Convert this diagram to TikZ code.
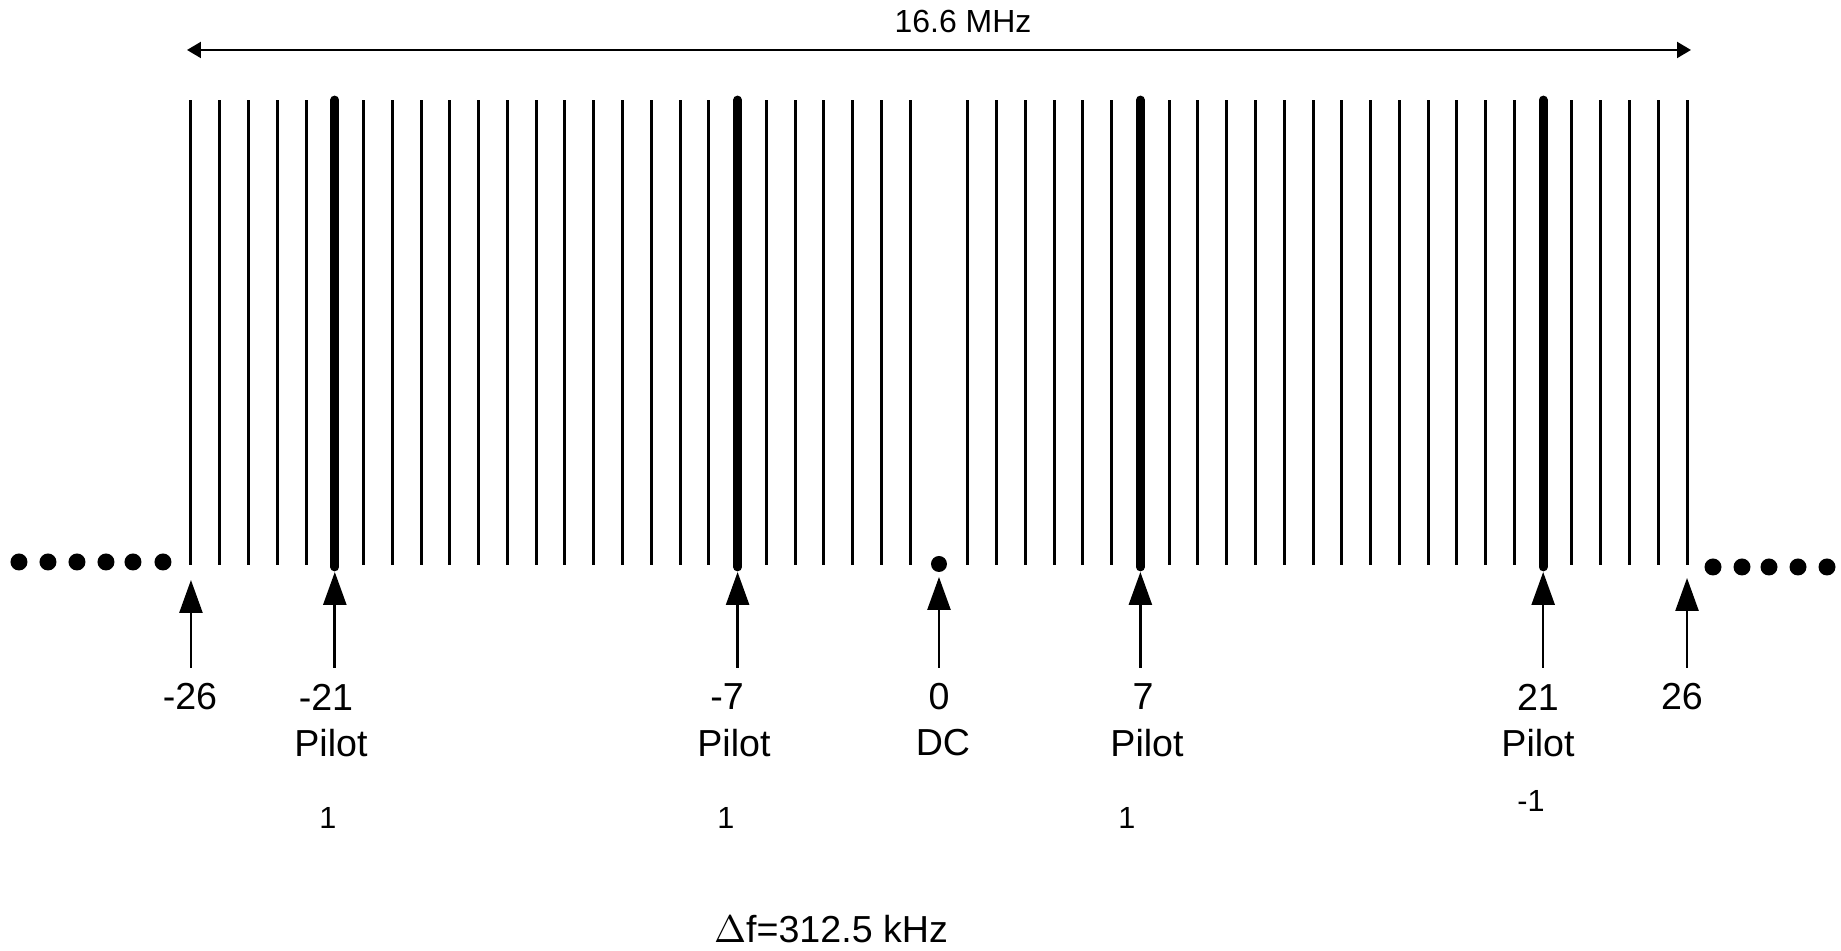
\documentclass[tikz,border=0pt]{standalone}
\usepackage{fontspec}
\setmainfont{Liberation Sans}
\usetikzlibrary{arrows.meta}

\newcommand{\df}{0.2877}

\tikzset{
  carrier/.style={line width=0.85pt},
  pilotline/.style={line width=2.5pt, line cap=round},
  subarrow/.style={line width=0.75pt, -{Triangle[length=0.33cm,width=0.23cm]}},
  spanarrow/.style={line width=0.6pt, {Triangle[length=0.14cm,width=0.16cm]}-{Triangle[length=0.14cm,width=0.16cm]}},
  idx/.style={font=\fontsize{10.7}{12}\selectfont, inner sep=0pt},
  val/.style={font=\fontsize{8.7}{10}\selectfont, inner sep=0pt}
}

\begin{document}
\begin{tikzpicture}
      \useasboundingbox (-9.39,-3.86) rectangle (9.02,5.65);
      % subcarriers
      \foreach \k in {-26,...,-1,1,2,...,26}
        \draw[carrier] (\k*\df,0) -- (\k*\df,4.65);
      \foreach \k in {-21,-7,7,21}
        \draw[pilotline] (\k*\df,-0.02) -- (\k*\df,4.65);
      \fill (0,0.01) circle (0.08);
      % dots outside the band
      \foreach \x in {-9.20,-8.91,-8.62,-8.33,-8.06,-7.76}
        \fill (\x,0.03) circle (0.085);
      \foreach \x in {7.74,8.03,8.30,8.59,8.88}
        \fill (\x,-0.02) circle (0.085);
      % bandwidth
      \coordinate (bwl) at (-7.52,5.15);
      \coordinate (bwr) at (7.52,5.15);
      \draw[spanarrow] (bwl) -- (bwr);
      \node[font=\fontsize{9.1}{11}\selectfont] (bw) at (0.24,5.43) {16.6 MHz};
      % index arrows
      \foreach \k/\t in {-26/-0.15,-21/-0.07,-7/-0.07,0/-0.12,7/-0.07,21/-0.07,26/-0.13} {
        \coordinate (base\k) at (\k*\df,-1.03);
        \coordinate (tip\k) at (\k*\df,\t);
        \draw[subarrow] (base\k) -- (tip\k);
      }
      \node[idx] (n-26) at (-7.49,-1.32) {-26};
      \node[idx] (n-21) at (-6.13,-1.32) {-21};
      \node[idx] (n-7) at (-2.12,-1.32) {-7};
      \node[idx] (n0) at (0,-1.32) {0};
      \node[idx] (n7) at (2.04,-1.32) {7};
      \node[idx] (n21) at (5.99,-1.32) {21};
      \node[idx] (n26) at (7.43,-1.32) {26};
      \node[idx] (p-21) at (-6.08,-1.78) {Pilot};
      \node[idx] (p-7) at (-2.05,-1.78) {Pilot};
      \node[idx] (dc) at (0.04,-1.78) {DC};
      \node[idx] (p7) at (2.08,-1.78) {Pilot};
      \node[idx] (p21) at (5.99,-1.78) {Pilot};
      \node[val] (v-21) at (-6.11,-2.53) {1};
      \node[val] (v-7) at (-2.13,-2.53) {1};
      \node[val] (v7) at (1.88,-2.53) {1};
      \node[val] (v21) at (5.92,-2.36) {-1};
      \node[idx] (spacing) at (-1.08,-3.64) {$\Delta$f=312.5 kHz};
\end{tikzpicture}
\end{document}
